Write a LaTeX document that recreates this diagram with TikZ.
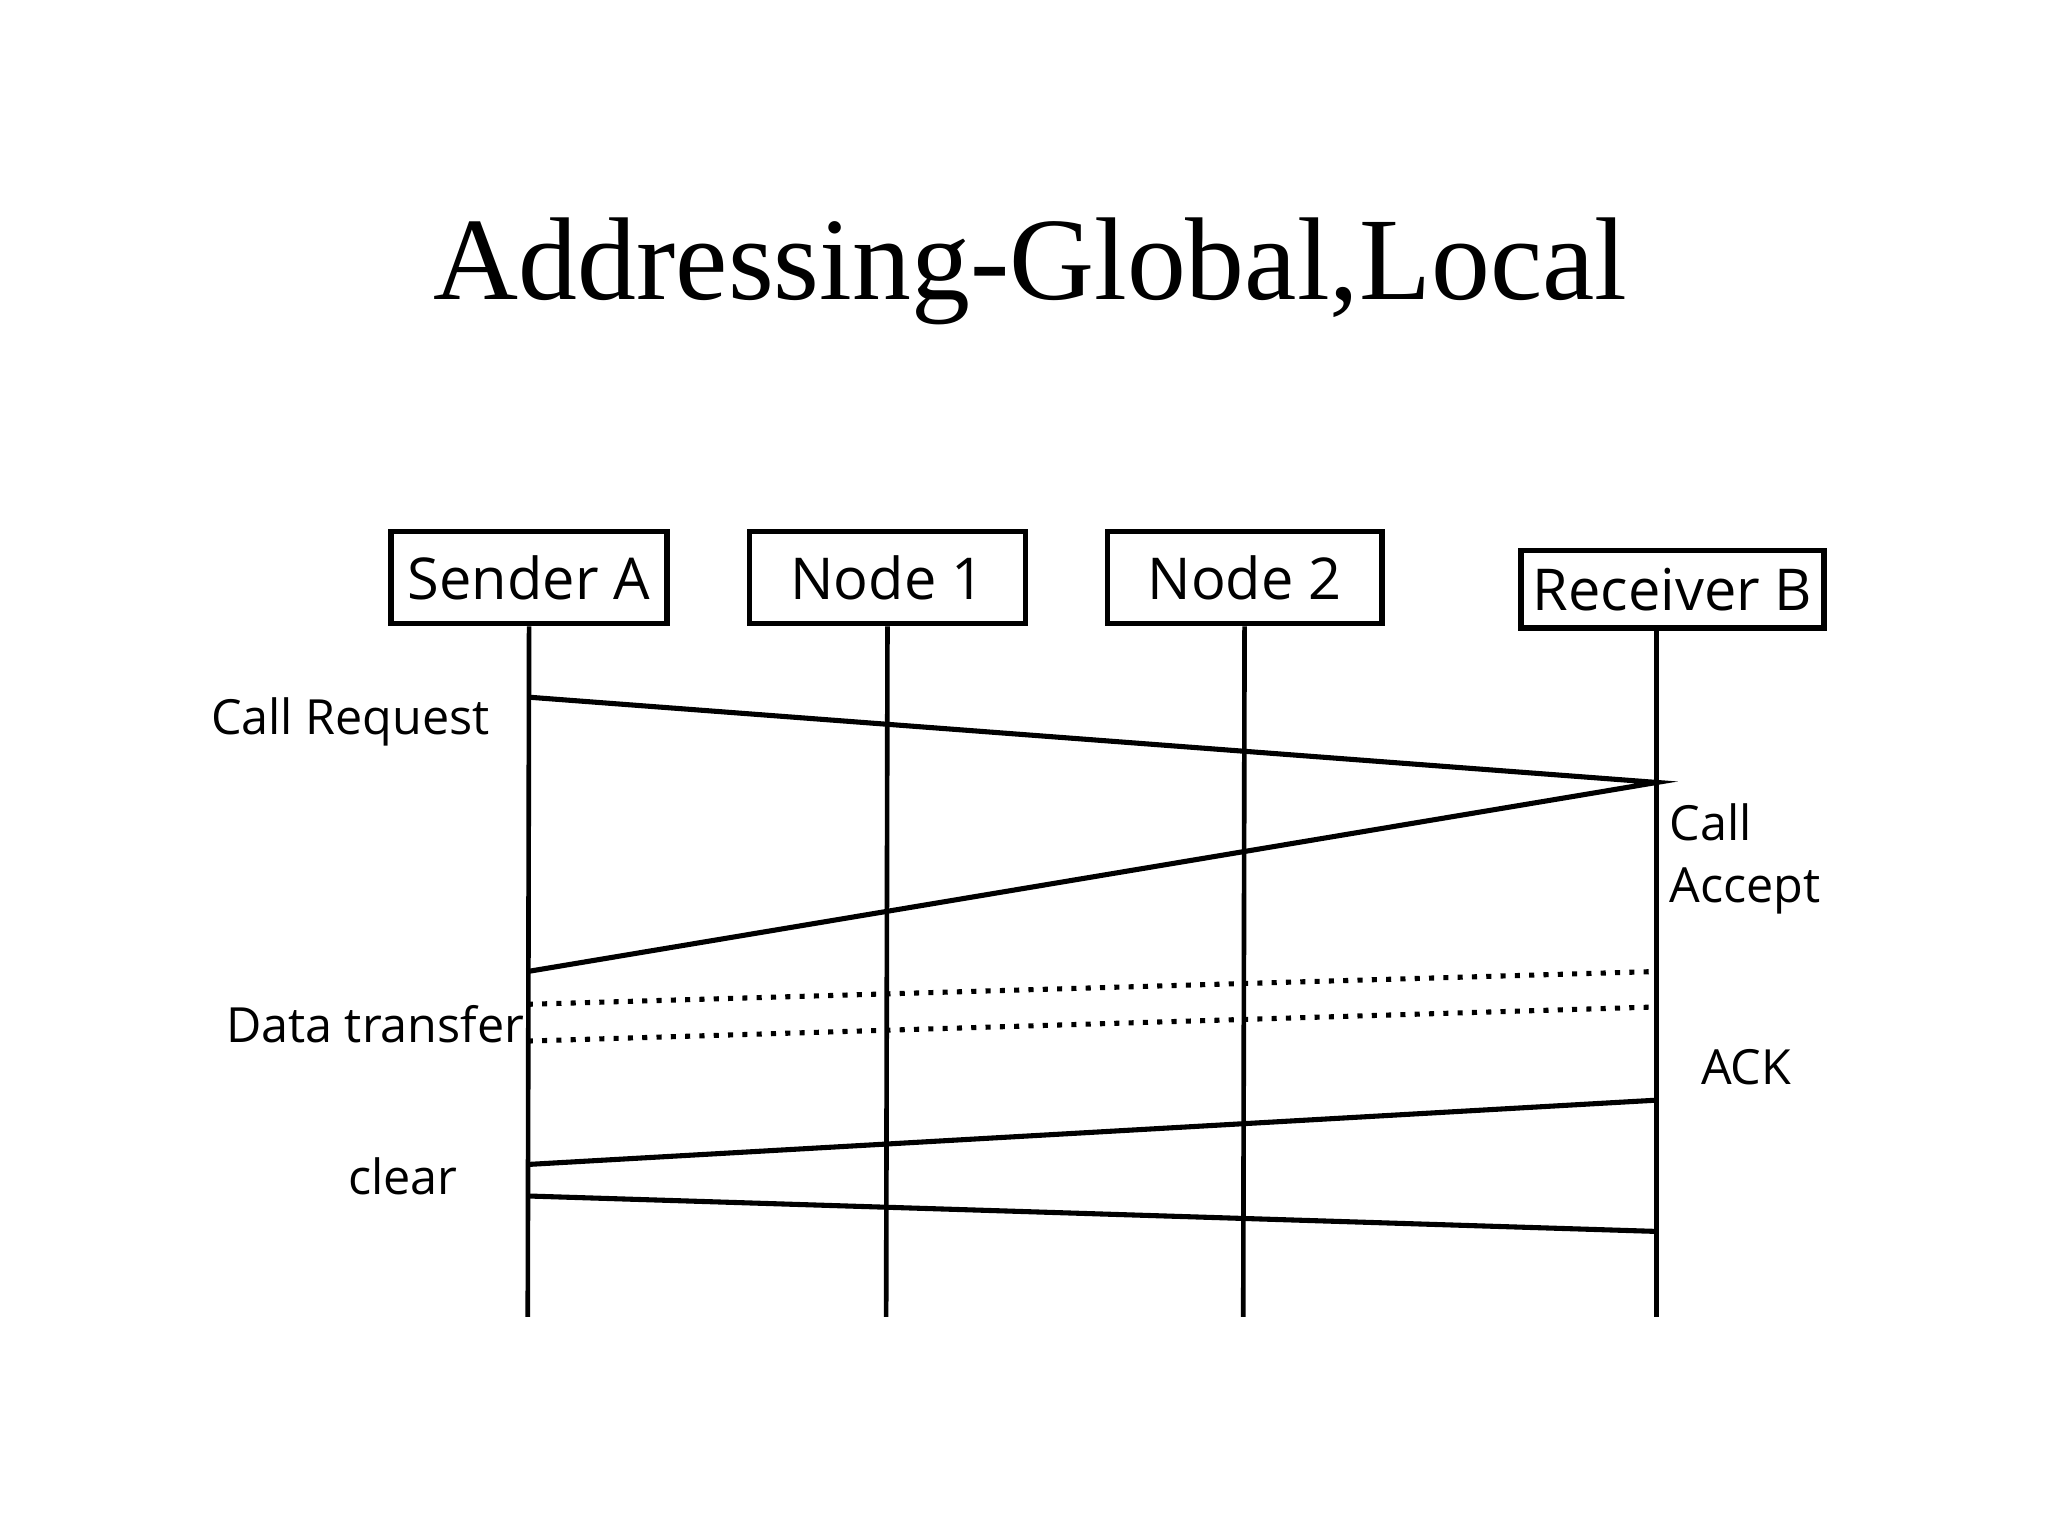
\documentclass[tikz,border=0pt]{standalone}
\usepackage{fontspec}
\setmainfont{Liberation Serif}
\newfontfamily\lbl{Open Sans}
\begin{document}
\begin{tikzpicture}[x=0.01cm,y=-0.01cm,
  box/.style={draw,line width=1.2pt,minimum height=2cm*0.35,inner sep=0pt,font=\lbl\fontsize{12.5}{14}\selectfont},
  life/.style={line width=1pt},
  msg/.style={line width=1.1pt},
  dot/.style={line width=1.1pt,dotted},
  lab/.style={font=\lbl\fontsize{10.5}{12}\selectfont,inner sep=0pt}]
\useasboundingbox (0,0) rectangle (1560,1170);
\node at (785,207) {\fontsize{25.5}{28}\selectfont Addressing-Global,Local};
\node[box,minimum width=2.1cm] (sa) at (403,440) {Sender A};
\node[box,minimum width=2.1cm] (n1) at (676,440) {Node 1};
\node[box,minimum width=2.09cm] (n2) at (948,440) {Node 2};
\node[box,minimum width=2.31cm,minimum height=0.59cm] (rb) at (1274,449) {Receiver B};
\coordinate (ea) at (402,1003); \coordinate (e1) at (675,1003);
\coordinate (e2) at (947,1003); \coordinate (eb) at (1262,1003);
\draw[life] (sa.south) -- (ea);
\draw[life] (n1.south) -- (e1);
\draw[life] (n2.south) -- (e2);
\draw[life] (1262,479) coordinate (rbt) -- (eb);
\coordinate (a1) at (402,531); \coordinate (b1) at (1262,596);
\coordinate (a2) at (402,740);
\coordinate (a3) at (402,765); \coordinate (b3) at (1262,740);
\coordinate (a4) at (402,793); \coordinate (b4) at (1262,767);
\coordinate (a5) at (402,887); \coordinate (b5) at (1262,838);
\coordinate (a6) at (402,911); \coordinate (b6) at (1262,938);
\draw[msg] (a1) -- (b1) -- (a2);
\draw[dot] (a3) -- (b3);
\draw[dot] (a4) -- (b4);
\draw[msg] (a5) -- (b5);
\draw[msg] (a6) -- (b6);
\node[lab] (l1) at (267,550) {Call Request};
\node[lab,anchor=west] (l2) at (1271,626) {Call};
\node[lab,anchor=west] (l3) at (1271,679) {Accept};
\node[lab,anchor=east] (l4) at (400,780) {Data transfer};
\node[lab] (l5) at (1330,813) {ACK};
\node[lab] (l6) at (307,896) {clear};
\end{tikzpicture}
\end{document}
